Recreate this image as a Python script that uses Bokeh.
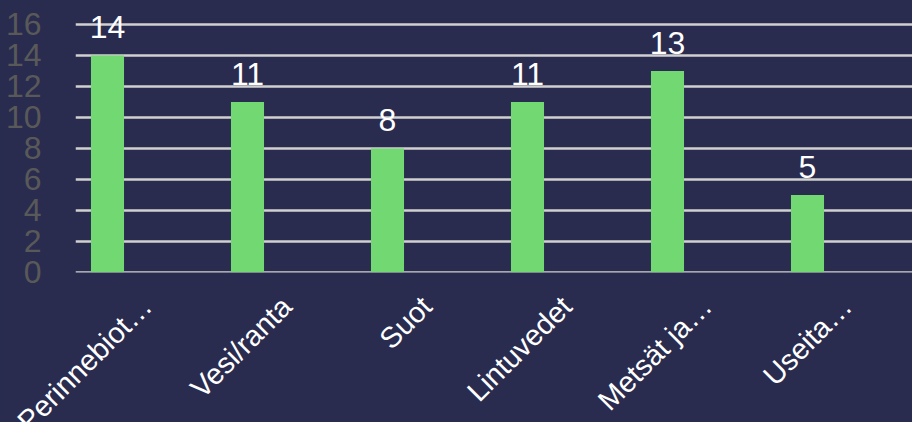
from bokeh.plotting import figure
from bokeh.models import ColumnDataSource, LabelSet, Range1d, FixedTicker, LinearAxis
from bokeh.core.properties import value
from bokeh.embed import file_html
from bokeh.resources import INLINE

categories = ["Perinnebiot…", "Vesi/ranta", "Suot", "Lintuvedet", "Metsät ja…", "Useita…"]
values = [14, 11, 8, 11, 13, 5]
y_ticks = [0, 2, 4, 6, 8, 10, 12, 14, 16]

BG = "#292C4F"
FONT = "Liberation Sans"

xs = list(range(len(categories)))
src = ColumnDataSource(dict(x=xs, val=values, lab=[str(v) for v in values]))

p = figure(width=912, height=422, frame_width=837, frame_height=272,
           output_backend="svg", toolbar_location=None,
           x_range=Range1d(-0.2286, 5.75), y_range=Range1d(-0.01, 17.548),
           min_border_left=75, min_border_right=0, min_border_top=0, min_border_bottom=150)

p.styles = {"background-color": BG}
p.background_fill_color = BG
p.border_fill_color = BG
p.outline_line_color = None

p.vbar(x="x", top="val", bottom=0, width=0.236, source=src,
       fill_color="#72D872", line_color=None)

# axes
p.xaxis.visible = False
p.xgrid.grid_line_color = None
yax = p.yaxis[0]
yax.ticker = FixedTicker(ticks=y_ticks)
yax.axis_line_color = None
yax.major_tick_line_color = None
yax.minor_tick_line_color = None
yax.major_label_standoff = 28
yax.major_label_text_font = FONT
yax.major_label_text_font_size = "32px"
yax.major_label_text_color = "#595959"
p.ygrid.ticker = FixedTicker(ticks=y_ticks)
p.ygrid.grid_line_color = "#D0D0D0"
p.ygrid.grid_line_width = 2.5
p.ygrid.level = "underlay"

# category axis (labels shifted right like the reference's rotated labels)
p.extra_x_ranges["lab"] = Range1d(-0.2286 - 0.28, 5.75 - 0.28)
cax = LinearAxis(x_range_name="lab", ticker=FixedTicker(ticks=xs),
                 major_label_overrides={i: c for i, c in zip(xs, categories)})
cax.axis_line_color = None
cax.major_tick_line_color = None
cax.minor_tick_line_color = None
cax.major_tick_out = 0
cax.major_label_standoff = 29
cax.major_label_orientation = 0.7854
cax.major_label_text_font = FONT
cax.major_label_text_font_size = "29px"
cax.major_label_text_color = "white"
p.add_layout(cax, "below")

# value labels
vals = LabelSet(x="x", y="val", text="lab", source=src, y_offset=17,
                text_align="center", text_baseline="alphabetic",
                text_font=value(FONT), text_font_size=value("32px"), text_color="white")
p.add_layout(vals)

open("out.html", "w").write(file_html(p, INLINE))
